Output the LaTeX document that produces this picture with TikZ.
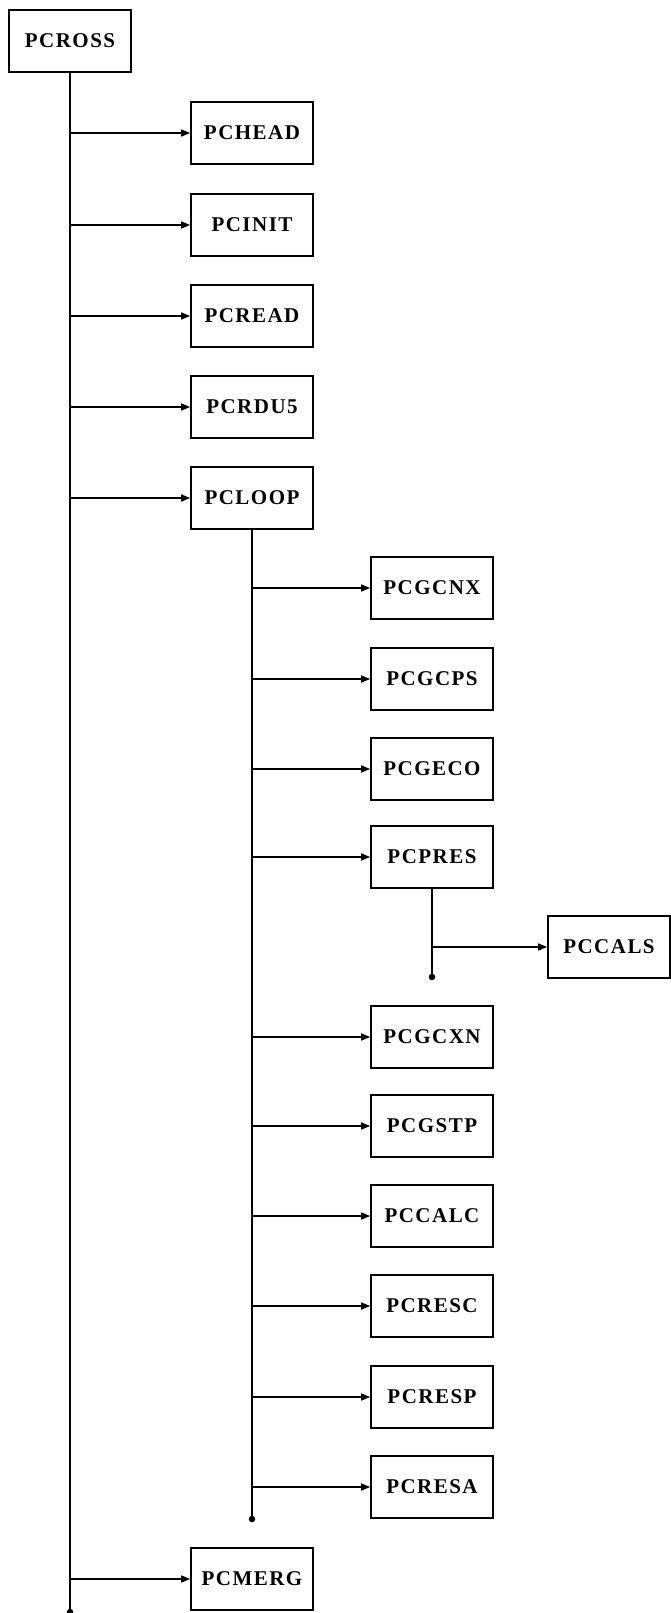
\documentclass[tikz,border=0pt]{standalone}
\usepackage{fontspec}
\setmainfont{Liberation Serif}
\usetikzlibrary{arrows.meta}
\begin{document}
\begin{tikzpicture}[x=1pt,y=-1pt,
  box/.style={draw,line width=1.7pt,minimum width=122pt,minimum height=62pt,inner sep=0pt,
    font=\fontsize{21}{24}\selectfont\bfseries\addfontfeature{LetterSpace=7}},
  trunk/.style={line width=1.9pt},
  call/.style={line width=1.5pt,-{Triangle[length=9pt,width=7pt]}},
  enddot/.style={circle,fill,inner sep=0pt,minimum size=6.5pt}]
\useasboundingbox (0,0) rectangle (670,1613);
\fill[white] (0,0) rectangle (670,1613);
% level 0
\node[box] (pcross) at (70,41) {PCROSS};
% level 1
\node[box] (pchead) at (252,133) {PCHEAD};
\node[box] (pcinit) at (252,225) {PCINIT};
\node[box] (pcread) at (252,316) {PCREAD};
\node[box] (pcrdu5) at (252,407) {PCRDU5};
\node[box] (pcloop) at (252,498) {PCLOOP};
\node[box] (pcmerg) at (252,1579) {PCMERG};
% level 2
\node[box] (pcgcnx) at (432,588) {PCGCNX};
\node[box] (pcgcps) at (432,679) {PCGCPS};
\node[box] (pcgeco) at (432,769) {PCGECO};
\node[box] (pcpres) at (432,857) {PCPRES};
\node[box] (pcgcxn) at (432,1037) {PCGCXN};
\node[box] (pcgstp) at (432,1126) {PCGSTP};
\node[box] (pccalc) at (432,1216) {PCCALC};
\node[box] (pcresc) at (432,1306) {PCRESC};
\node[box] (pcresp) at (432,1397) {PCRESP};
\node[box] (pcresa) at (432,1487) {PCRESA};
% level 3
\node[box] (pccals) at (609,947) {PCCALS};
% trunk ends
\node[enddot] (end1) at (70,1612) {};
\node[enddot] (end2) at (252,1519) {};
\node[enddot] (end3) at (432,977) {};
% trunks
\draw[trunk] (pcross.south) -- (end1.center);
\draw[trunk] (pcloop.south) -- (end2.center);
\draw[trunk] (pcpres.south) -- (end3.center);
% calls
\foreach \n in {pchead,pcinit,pcread,pcrdu5,pcloop,pcmerg}
  \draw[call] (pcross.south |- \n.west) -- (\n.west);
\foreach \n in {pcgcnx,pcgcps,pcgeco,pcpres,pcgcxn,pcgstp,pccalc,pcresc,pcresp,pcresa}
  \draw[call] (pcloop.south |- \n.west) -- (\n.west);
\draw[call] (pcpres.south |- pccals.west) -- (pccals.west);
\end{tikzpicture}
\end{document}
